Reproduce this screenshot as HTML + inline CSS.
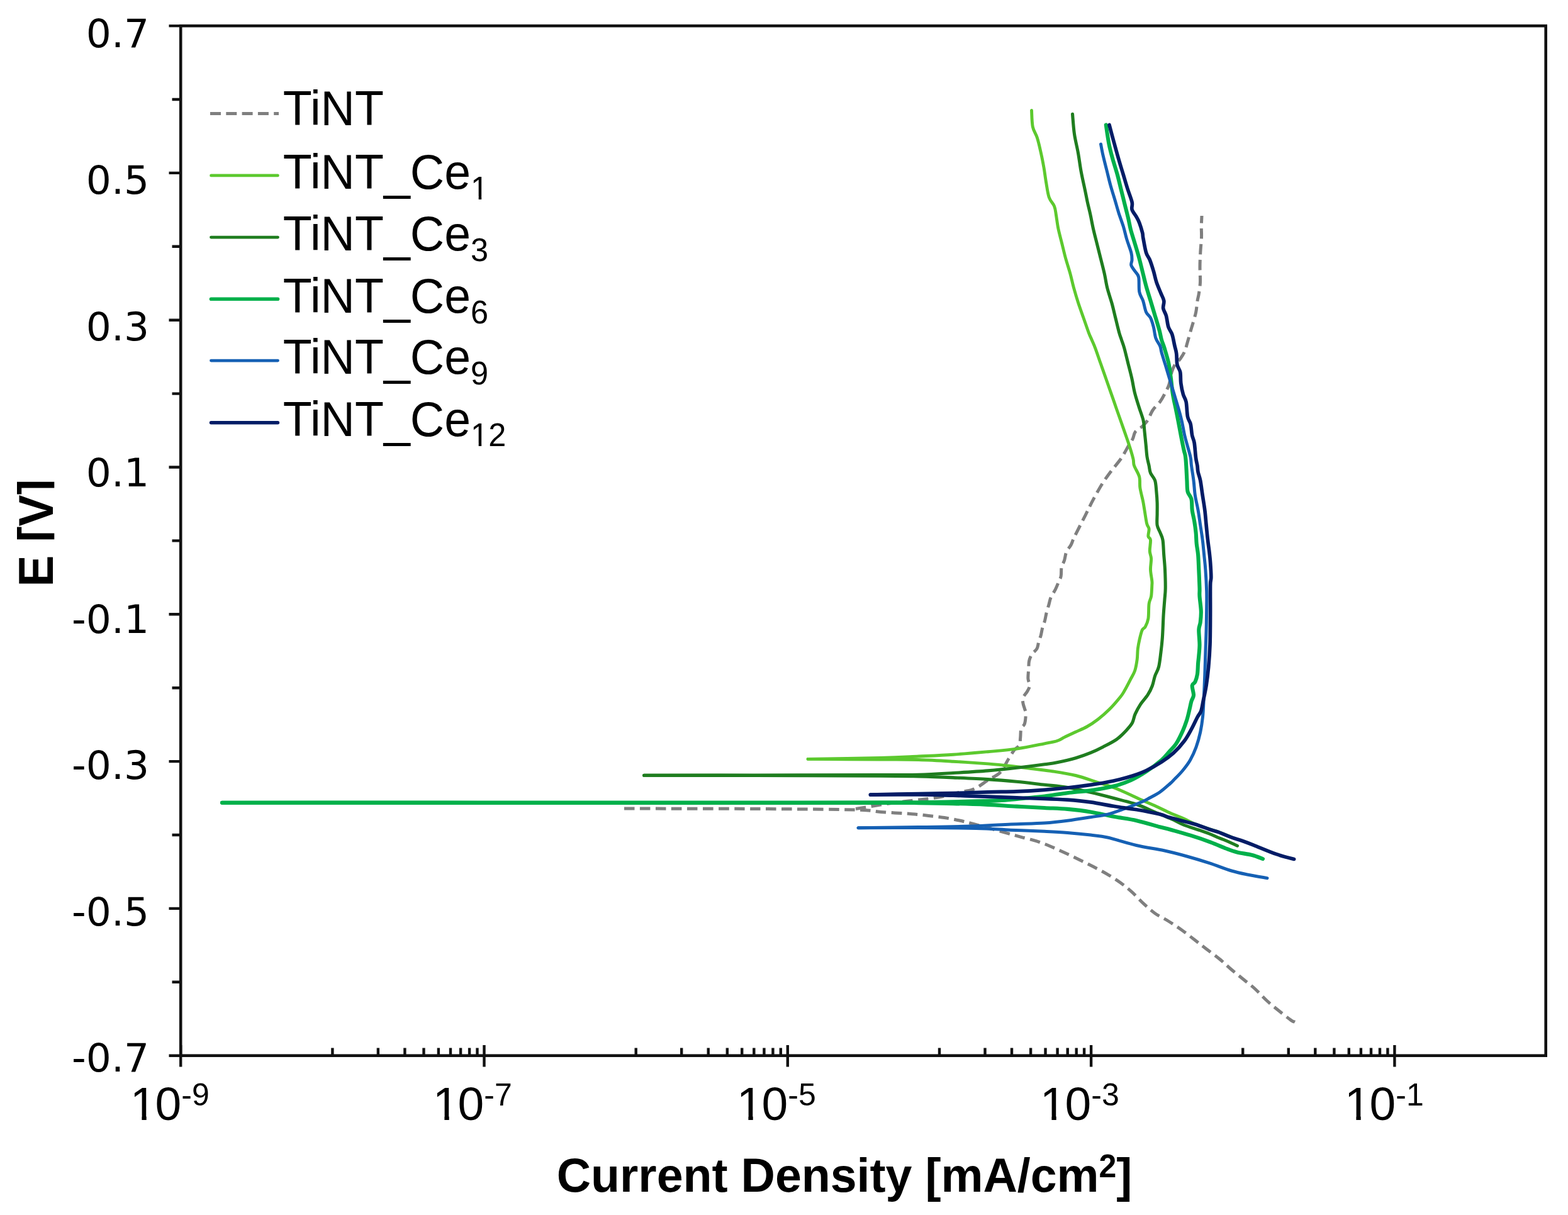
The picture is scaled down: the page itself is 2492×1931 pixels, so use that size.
<!DOCTYPE html>
<html><head><meta charset="utf-8"><title>Potentiodynamic polarization curves</title>
<style>html,body{margin:0;padding:0;background:#fff;}svg{display:block;} .lab{font-family:"Liberation Sans",Arial,sans-serif;fill:#000;}.ylab{font-family:"DejaVu Sans","Liberation Sans",sans-serif;fill:#000;}.bold{font-family:"Liberation Sans",Arial,sans-serif;font-weight:bold;fill:#000;}</style></head><body>
<svg xmlns="http://www.w3.org/2000/svg" width="2492" height="1931" viewBox="0 0 2492 1931">
<rect x="0" y="0" width="2492" height="1931" fill="#fff"/>
<defs><clipPath id="ytclip"><rect x="0" y="600" width="86.3" height="500"/></clipPath></defs>
<g fill="none" stroke-linecap="round" stroke-linejoin="round">
<g stroke="#7f7f7f" stroke-width="5" stroke-dasharray="16.5 8.5" stroke-linecap="butt">
<path d="M992 1285C1026.7 1285.1 1138.7 1285.2 1200 1285.5C1261.3 1285.8 1326.7 1286.2 1360 1287C1393.3 1287.8 1385 1289.4 1400 1290.5C1415 1291.6 1437.3 1292.7 1450 1293.7C1462.7 1294.7 1467.5 1295.5 1476 1296.5C1484.5 1297.5 1492.8 1298.2 1501 1299.5C1509.2 1300.8 1517.3 1302.3 1525 1304C1532.7 1305.7 1538.7 1307.3 1547 1309.5C1555.3 1311.7 1565.8 1314.5 1575 1317C1584.2 1319.5 1594.3 1322.4 1602.3 1324.6C1610.3 1326.8 1615.5 1328.3 1622.9 1330.3C1630.3 1332.3 1639.1 1334.1 1646.9 1336.6C1654.7 1339.1 1662.2 1342 1669.8 1345.2C1677.4 1348.4 1685.1 1352 1692.7 1355.5C1700.3 1359 1708.1 1362.8 1715.6 1366.4C1723 1370 1730.1 1373.5 1737.4 1377.3C1744.8 1381.1 1752.5 1385 1759.7 1389.3C1767 1393.6 1774.3 1398.2 1780.9 1403C1787.5 1407.8 1793.1 1412.4 1799.2 1417.9C1805.3 1423.4 1811.4 1430.6 1817.5 1436.2C1823.6 1441.8 1829.2 1447.1 1835.8 1451.7C1842.4 1456.3 1850 1459.6 1857 1464C1864 1468.4 1871 1473 1878 1478C1885 1483 1892.5 1489 1899 1494C1905.5 1499 1910.5 1503 1917 1508C1923.5 1513 1931.5 1518.7 1938 1524C1944.5 1529.3 1949.8 1534.7 1956 1540C1962.2 1545.3 1969 1550.7 1975.5 1556C1982 1561.3 1988.8 1566.3 1995 1572C2001.2 1577.7 2006.8 1584.3 2013 1590C2019.2 1595.7 2025.5 1600.7 2032 1606C2038.5 1611.3 2047.7 1618.5 2052 1621.6C2056.3 1624.6 2057 1623.8 2058 1624.3"/>
<path d="M1360 1285.5C1370 1283.9 1400.7 1278.7 1420 1276C1439.3 1273.3 1462.7 1271 1476 1269.3C1489.3 1267.5 1491.2 1267.3 1500 1265.5C1508.8 1263.7 1520.3 1260.5 1528.5 1258.5C1536.7 1256.5 1542.1 1256.6 1549 1253.5C1555.9 1250.4 1563.6 1244 1570 1240C1576.4 1236 1583.2 1233.2 1587.5 1229.5C1591.8 1225.8 1593.4 1221.9 1596 1218C1598.6 1214.1 1600.3 1210.3 1603 1206C1605.7 1201.7 1609.2 1195.6 1612 1192C1614.8 1188.4 1618.4 1187.8 1620 1184.5C1621.6 1181.2 1621.2 1176.8 1621.7 1172.4C1622.2 1168 1621.8 1161.9 1622.9 1158.2C1624 1154.5 1627.3 1154.1 1628.5 1150C1629.7 1145.9 1630.3 1137.6 1630.3 1133.7C1630.3 1129.8 1629.2 1129.3 1628.5 1126.6C1627.8 1123.9 1626.3 1120.7 1625.9 1117.7C1625.5 1114.8 1624.7 1112.2 1625.9 1108.9C1627.1 1105.7 1631.2 1101.5 1633 1098.2C1634.8 1095 1636.3 1092.7 1636.5 1089.4C1636.7 1086.2 1634.2 1083.1 1633.9 1078.7C1633.6 1074.3 1634.5 1067.5 1634.8 1062.8C1635.1 1058.1 1634.7 1054.2 1635.6 1050.4C1636.5 1046.6 1638 1043 1640.1 1039.7C1642.2 1036.5 1646.2 1034.2 1648 1030.9C1649.8 1027.7 1649.7 1023.8 1650.7 1020.2C1651.8 1016.7 1653.3 1013.4 1654.3 1009.6C1655.3 1005.8 1655.9 1001.1 1656.9 997.2C1657.9 993.4 1659.5 990.4 1660.5 986.5C1661.5 982.6 1662.1 978.2 1663.1 974.1C1664.1 970 1665.5 965.8 1666.7 961.7C1667.9 957.6 1668.4 953.4 1670.2 949.3C1672 945.2 1675.2 941 1677.3 936.9C1679.4 932.8 1681.1 928 1682.6 924.5C1684.1 921 1685.5 919.5 1686.2 915.6C1687 911.8 1686.2 905.5 1687.1 901.4C1688 897.3 1690.2 894.9 1691.5 890.8C1692.8 886.7 1693.2 880.7 1695 876.6C1696.8 872.5 1700 869.9 1702.1 866C1704.2 862.1 1703.7 861.2 1707.4 853.5C1711.1 845.8 1719.5 829.7 1724.5 819.8C1729.5 809.9 1732.8 802.6 1737.4 794.1C1742 785.6 1747.4 775.8 1752 768.5C1756.6 761.2 1759.9 756.8 1764.8 750.2C1769.7 743.6 1776.8 735.8 1781.5 729C1786.2 722.2 1789.7 714.9 1792.8 709.7C1795.9 704.5 1798 702 1800 698C1802 694 1802 689.3 1804.5 686C1807 682.7 1811.8 681 1815 678C1818.2 675 1821.2 672.3 1824 668C1826.8 663.7 1828.7 657 1832 652C1835.3 647 1840.8 642.3 1844 638C1847.2 633.7 1848.7 630.5 1851 626C1853.3 621.5 1856.2 616.7 1858 611C1859.8 605.3 1860.5 597.2 1862 592C1863.5 586.8 1864.7 583.7 1867 580C1869.3 576.3 1873.3 573.7 1876 570C1878.7 566.3 1881.1 562.5 1883 558C1884.9 553.5 1885.9 548.4 1887.5 543C1889.1 537.6 1891 530.4 1892.4 525.5C1893.8 520.6 1894.5 518.6 1895.9 513.7C1897.3 508.8 1899.5 501.8 1900.7 495.9C1901.9 490 1902.2 483.1 1903 478.2C1903.8 473.3 1904.7 471.3 1905.4 466.4C1906.2 461.5 1907.2 455.6 1907.5 448.7C1907.8 441.8 1907 432.9 1907 425C1907 417.1 1907.4 409.3 1907.8 401.4C1908.2 393.5 1909.2 384.6 1909.5 377.7C1909.8 370.8 1909.2 365.8 1909.3 360C1909.4 354.2 1909.9 345.8 1910 343"/>
</g>
<g stroke="#5cc92e" stroke-width="4.9">
<path d="M1284 1206.4C1303.3 1206.5 1370.7 1206.8 1400 1207C1429.3 1207.2 1440.8 1207 1460 1207.5C1479.2 1208 1496.6 1209.1 1514.9 1210.2C1533.2 1211.3 1554.6 1212.7 1569.9 1213.9C1585.2 1215.1 1594.3 1216.1 1606.5 1217.5C1618.7 1218.9 1632 1220.7 1643.2 1222.1C1654.4 1223.5 1662.6 1224.3 1673.7 1226C1684.8 1227.7 1698.1 1229.7 1709.6 1232.5C1721 1235.3 1731.6 1239.3 1742.4 1242.8C1753.2 1246.3 1762.4 1248.6 1774.6 1253.5C1786.8 1258.4 1804.9 1267.3 1815.7 1272.1C1826.5 1276.9 1832.2 1279.1 1839.6 1282.5C1847 1285.9 1853.1 1289.2 1860 1292.3C1866.9 1295.4 1874.8 1298.2 1881.2 1301C1887.6 1303.8 1891.7 1306.5 1898.5 1309.2C1905.3 1312 1915.4 1315.3 1921.8 1317.5C1928.2 1319.7 1931 1320.1 1936.9 1322.2C1942.8 1324.3 1953.7 1329 1957 1330.3"/>
<path d="M1284 1206.4C1303.3 1206.1 1370.7 1205.2 1400 1204.5C1429.3 1203.8 1440.8 1202.9 1460 1202C1479.2 1201.1 1496.6 1200.4 1514.9 1199.2C1533.2 1198 1553.1 1196.2 1569.9 1194.7C1586.7 1193.2 1600.7 1192.2 1615.7 1190.1C1630.7 1187.9 1649.3 1183.9 1660 1181.8C1670.7 1179.7 1674.7 1179.2 1680 1177.5C1685.3 1175.8 1686.9 1174 1691.8 1171.6C1696.7 1169.2 1703.7 1166.1 1709.6 1163.3C1715.5 1160.5 1721.4 1158.3 1727.3 1155C1733.2 1151.7 1739.1 1147.7 1745 1143.2C1750.9 1138.7 1756.8 1133.7 1762.7 1127.8C1768.6 1121.9 1776.4 1112.7 1780.5 1107.7C1784.6 1102.7 1784.4 1102.4 1787.1 1097.8C1789.8 1093.2 1793.8 1085.4 1796.5 1080.1C1799.2 1074.8 1801.8 1071.3 1803.6 1066C1805.4 1060.7 1806.4 1054.1 1807.2 1048.2C1808 1042.3 1807.6 1036.4 1808.4 1030.5C1809.2 1024.6 1810.7 1017.6 1811.9 1012.7C1813.1 1007.8 1814.1 1003.6 1815.5 1000.9C1816.9 998.1 1818.6 999.2 1820.2 996.2C1821.8 993.2 1823.9 989.3 1824.9 983.2C1825.9 977.1 1825.3 965.5 1826.1 959.6C1826.9 953.7 1828.8 952.6 1829.6 947.7C1830.4 942.8 1830.6 934.1 1830.8 930C1831 925.9 1831.2 927.3 1830.8 923.2C1830.4 919.1 1828.7 911.4 1828.5 905.5C1828.3 899.6 1829.8 892.7 1829.6 887.8C1829.4 882.9 1827.5 880.8 1827.3 875.9C1827.1 871 1828.9 862.1 1828.5 858.2C1828.1 854.3 1825.3 855.2 1824.9 852.3C1824.5 849.3 1826.5 843.9 1826.1 840.5C1825.7 837.1 1823.8 837.1 1822.6 832.2C1821.4 827.3 1820 816.8 1819 810.9C1818 805 1817.8 802.6 1816.6 796.7C1815.4 790.8 1812.9 782 1811.9 775.5C1810.9 769 1812.3 763.6 1810.7 757.7C1809.1 751.8 1804.1 744.6 1802.5 740C1800.9 735.4 1802.1 734.5 1801.1 730C1800.1 725.5 1798.2 719 1796.4 713.2C1794.6 707.5 1792.9 702.4 1790.5 695.5C1788.1 688.6 1785 679.7 1782.2 671.8C1779.4 663.9 1776.7 656.1 1773.9 648.2C1771.2 640.3 1768.5 632.5 1765.7 624.6C1763 616.7 1760.2 608.8 1757.4 600.9C1754.6 593 1751.9 585.2 1749.1 577.3C1746.3 569.4 1743.1 559.8 1740.8 553.6C1738.5 547.4 1736.8 544.1 1735.1 540C1733.4 535.9 1732.6 534.9 1730.4 529.1C1728.2 523.4 1724.9 513.4 1722.1 505.5C1719.3 497.6 1716.4 489.7 1713.8 481.8C1711.2 473.9 1708.9 466.1 1706.7 458.2C1704.5 450.3 1703 442.5 1700.8 434.6C1698.6 426.7 1695.9 418.8 1693.7 410.9C1691.5 403 1689.8 395.2 1687.8 387.3C1685.8 379.4 1683.5 371.2 1681.9 363.6C1680.4 356.1 1679.5 348 1678.5 342C1677.5 336 1677.5 332.5 1675.6 327.8C1673.7 323.1 1669.5 320 1667.3 313.7C1665.1 307.4 1664 297.9 1662.6 290C1661.2 282.1 1660.4 274.3 1659 266.4C1657.6 258.5 1656.1 250.6 1654.3 242.7C1652.5 234.8 1650.6 226 1648.4 219.1C1646.2 212.2 1642.8 208.7 1641.3 201.4C1639.8 194.1 1639.8 179.7 1639.5 175.4"/>
</g>
<g stroke="#1f7d1f" stroke-width="5.1">
<path d="M1023.6 1232.2C1053 1232.2 1137.3 1232.3 1200 1232.5C1262.7 1232.7 1356.7 1233 1400 1233.3C1443.3 1233.5 1440.8 1233.6 1460 1234C1479.2 1234.4 1496.6 1235.1 1514.9 1235.9C1533.2 1236.7 1553.1 1237.5 1569.9 1238.6C1586.7 1239.7 1600.7 1240.9 1615.7 1242.3C1630.7 1243.7 1646.5 1245.7 1660 1247.2C1673.5 1248.7 1684.4 1249.5 1696.6 1251.5C1708.8 1253.5 1721.1 1256.5 1733.3 1259.3C1745.5 1262.1 1757.7 1265.3 1769.9 1268.5C1782.1 1271.7 1795.8 1274.9 1806.5 1278.5C1817.2 1282.1 1826.8 1287 1834 1290C1841.2 1293 1844.8 1294.3 1850 1296.5C1855.2 1298.7 1859.8 1300.6 1865 1303C1870.2 1305.4 1874.5 1308.3 1881.2 1311C1887.9 1313.7 1898.1 1316.7 1904.9 1319C1911.7 1321.3 1916.5 1322.9 1921.8 1325C1927.1 1327.1 1932.5 1329.7 1936.9 1331.5C1941.3 1333.3 1943.5 1333.9 1948.4 1336C1953.3 1338.1 1963.5 1342.8 1966.5 1344.2"/>
<path d="M1023.6 1232.2C1053 1232.2 1137.3 1232.1 1200 1232C1262.7 1231.9 1356.7 1231.6 1400 1231.5C1443.3 1231.4 1440.8 1231.8 1460 1231.3C1479.2 1230.8 1496.6 1229.6 1514.9 1228.5C1533.2 1227.4 1553.1 1226.3 1569.9 1224.9C1586.7 1223.5 1600.7 1222 1615.7 1220.3C1630.7 1218.6 1649.3 1216.2 1660 1214.8C1670.7 1213.4 1671.7 1213.5 1680 1211.8C1688.3 1210.1 1700.7 1207.3 1709.6 1204.7C1718.5 1202.1 1725.9 1199.4 1733.2 1196.4C1740.5 1193.4 1746.4 1190.5 1753.3 1186.9C1760.2 1183.4 1768.5 1179.4 1774.6 1175.1C1780.7 1170.8 1785.8 1165.2 1789.9 1160.9C1794 1156.6 1797 1153.4 1799.4 1149.1C1801.8 1144.8 1801.9 1139.8 1804.1 1134.9C1806.3 1130 1809.1 1124.7 1812.4 1119.6C1815.8 1114.5 1821.1 1109.1 1824.2 1104.2C1827.3 1099.3 1829.4 1095 1831.3 1090C1833.2 1085 1833.9 1079.2 1835.6 1074.2C1837.3 1069.2 1839.9 1066.3 1841.5 1060C1843.1 1053.7 1844 1044.3 1845 1036.4C1846 1028.5 1846.7 1022.6 1847.4 1012.7C1848.1 1002.9 1848.5 987.1 1849.1 977.3C1849.7 967.4 1850.4 960.6 1850.9 953.6C1851.4 946.6 1852.1 943 1852.2 935C1852.3 927 1851.9 914.4 1851.5 905.5C1851.1 896.6 1850.3 889.7 1849.7 881.8C1849.1 873.9 1849 864.1 1848 858.2C1847 852.3 1845.3 850.3 1843.8 846.4C1842.3 842.5 1839.9 839.5 1839.1 834.6C1838.3 829.7 1839.1 822.7 1839.1 816.8C1839.1 810.9 1839.3 805 1839.1 799.1C1838.9 793.2 1838.5 787.3 1837.9 781.4C1837.3 775.5 1837.2 768.5 1835.6 763.6C1834 758.7 1830.1 755.7 1828.5 751.8C1826.9 747.9 1827 744.3 1826.1 740C1825.2 735.7 1823.8 731.5 1823 726C1822.2 720.5 1821.9 714.3 1821.2 707.3C1820.5 700.2 1819.5 690.2 1818.8 683.7C1818.1 677.2 1818.5 674.2 1817.1 668.3C1815.7 662.4 1812.9 655.5 1810.6 648.2C1808.3 640.9 1805.5 632.5 1803.5 624.6C1801.5 616.7 1800.5 608.8 1798.7 600.9C1796.9 593 1794.8 585.2 1792.8 577.3C1790.8 569.4 1788.6 559.8 1786.9 553.6C1785.2 547.4 1783.8 544.1 1782.4 540C1781.1 535.9 1780.4 534.9 1778.8 529.1C1777.2 523.4 1774.9 513.4 1772.9 505.5C1770.9 497.6 1769.2 489.7 1767 481.8C1764.8 473.9 1761.9 466.1 1759.9 458.2C1757.9 450.3 1757 442.5 1755.2 434.6C1753.4 426.7 1751.3 418.8 1749.3 410.9C1747.3 403 1745.4 395.2 1743.4 387.3C1741.4 379.4 1739.3 371.5 1737.5 363.6C1735.7 355.7 1734.3 347.3 1732.7 340C1731.1 332.7 1729.4 326.6 1728 320C1726.6 313.4 1725.8 308.6 1724.1 300.7C1722.4 292.8 1719.9 282 1718.1 272.3C1716.3 262.6 1715.2 252.5 1713.4 242.7C1711.6 232.8 1709 223.4 1707.5 213.2C1706 203 1705 186.6 1704.5 181.3"/>
</g>
<g stroke="#00b04a" stroke-width="6.1">
<path d="M353 1275.7C460.8 1275.8 825.5 1276 1000 1276C1174.5 1276 1323.3 1276 1400 1276C1476.7 1276 1440.8 1276 1460 1276.2C1479.2 1276.4 1496.6 1276.6 1514.9 1277.1C1533.2 1277.5 1553.1 1278.2 1569.9 1278.9C1586.7 1279.7 1600.7 1280.8 1615.7 1281.6C1630.7 1282.4 1646.5 1283.3 1660 1284C1673.5 1284.7 1684.4 1284.8 1696.6 1285.9C1708.8 1287 1721.1 1288.4 1733.3 1290.4C1745.5 1292.4 1757.7 1295.5 1769.9 1297.8C1782.1 1300.1 1794.3 1301.5 1806.5 1304.2C1818.7 1306.9 1834.3 1311.8 1843.2 1314.2C1852.1 1316.6 1851.9 1316.2 1860 1318.5C1868.1 1320.8 1881.3 1324.4 1892 1327.7C1902.7 1331 1914.7 1335.1 1924.1 1338.6C1933.5 1342.1 1941.4 1345.8 1948.4 1348.5C1955.4 1351.2 1959.3 1352.8 1966.2 1354.5C1973.1 1356.2 1983.2 1357.2 1990 1359C1996.8 1360.8 2004.2 1364 2007 1365"/>
<path d="M353 1275.7C460.8 1275.7 825.5 1275.5 1000 1275.5C1174.5 1275.5 1323.3 1275.5 1400 1275.4C1476.7 1275.4 1434.7 1275.5 1460 1275.2C1485.3 1274.9 1528.7 1274 1551.6 1273.4C1574.5 1272.8 1584.3 1272.4 1597.4 1271.6C1610.5 1270.8 1619.6 1269.5 1630 1268.5C1640.4 1267.5 1648.9 1266.9 1660 1265.5C1671.1 1264.1 1684.4 1261.8 1696.6 1260.2C1708.8 1258.7 1721.1 1258 1733.3 1256.2C1745.5 1254.4 1759.2 1252.2 1769.9 1249.5C1780.6 1246.8 1788.7 1243.9 1797.4 1240C1806.1 1236.1 1813.9 1231.3 1822 1226C1830.1 1220.7 1840 1213.2 1846 1208C1852 1202.8 1854.2 1199.3 1858 1195C1861.8 1190.7 1865.4 1187.9 1869.1 1182.2C1872.8 1176.5 1877.2 1167.1 1880 1160.9C1882.8 1154.7 1884.3 1150.2 1886 1145C1887.7 1139.8 1888.7 1135.1 1889.9 1130C1891.2 1124.9 1892.3 1118.6 1893.5 1114.4C1894.7 1110.2 1896.8 1109 1897 1104.9C1897.2 1100.8 1894.3 1093.1 1894.7 1089.6C1895.1 1086.1 1898 1086.7 1899.4 1083.7C1900.8 1080.7 1902.1 1076.7 1902.9 1071.8C1903.7 1066.9 1903.7 1059 1904.1 1054.1C1904.5 1049.2 1904.9 1047.2 1905.3 1042.3C1905.7 1037.4 1906.5 1031.5 1906.5 1024.6C1906.5 1017.7 1905.1 1006.8 1905.3 1000.9C1905.5 995 1907.1 994 1907.7 989.1C1908.3 984.2 1909 978.3 1908.8 971.4C1908.6 964.5 1906.9 953.8 1906.5 947.7C1906.1 941.6 1906.7 942 1906.5 935C1906.3 928 1905.7 914.4 1905.3 905.5C1904.9 896.6 1904.7 888.7 1904.1 881.8C1903.5 874.9 1902.3 870 1901.7 864.1C1901.1 858.2 1901.2 852.3 1900.6 846.4C1900 840.5 1899.2 834.6 1898.2 828.7C1897.2 822.8 1895.5 816.8 1894.7 810.9C1893.9 805 1894.7 798.1 1893.5 793.2C1892.3 788.3 1888.8 786.3 1887.6 781.4C1886.4 776.5 1886.8 770.5 1886.4 763.6C1886 756.7 1885.6 746.4 1885.2 740C1884.8 733.6 1884.5 729.1 1883.9 725C1883.3 720.9 1882.8 721 1881.6 715.5C1880.4 710 1878.3 699.5 1876.8 691.8C1875.3 684 1873.9 676.1 1872.5 669C1871.1 661.9 1870 656.2 1868.5 649C1867 641.8 1865 633.5 1863.8 625.7C1862.5 617.9 1862.1 610.3 1861 602C1859.9 593.7 1858.8 584.2 1857 576C1855.2 567.8 1852.3 559 1850.5 553C1848.7 547 1847.3 544.6 1846 540C1844.7 535.4 1844.4 531.9 1842.7 525.5C1841 519.1 1838.1 509.7 1835.7 501.8C1833.3 493.9 1831 486.1 1828.6 478.2C1826.2 470.3 1823.7 462.5 1821.5 454.6C1819.3 446.7 1817.6 438.8 1815.6 430.9C1813.6 423 1811.8 415.2 1809.6 407.3C1807.4 399.4 1804.7 390.7 1802.6 383.6C1800.5 376.6 1798.6 371.1 1797 365C1795.4 358.9 1794.8 354.2 1793.2 347.3C1791.6 340.4 1789.3 331.6 1787.3 323.7C1785.3 315.8 1783.4 307.9 1781.4 300C1779.4 292.1 1777.7 284.3 1775.5 276.4C1773.3 268.5 1770.6 260.6 1768.4 252.7C1766.2 244.8 1764.3 238.1 1762.5 229.1C1760.7 220.1 1758.5 203.5 1757.7 198.4"/>
</g>
<g stroke="#1560b4" stroke-width="5.0">
<path d="M1364 1315.8C1380 1315.8 1428.7 1315.4 1460 1315.5C1491.3 1315.6 1527.2 1315.8 1551.6 1316.4C1576 1317 1588.4 1318.4 1606.5 1319.2C1624.6 1320 1645 1320.6 1660 1321.3C1675 1322 1684.4 1322.4 1696.6 1323.4C1708.8 1324.4 1722.7 1325.8 1733.3 1327.1C1743.9 1328.4 1748.2 1328.3 1760.3 1331C1772.4 1333.7 1791 1340 1806 1343.5C1821 1347 1836.6 1348.9 1850 1351.8C1863.4 1354.7 1874.4 1357.7 1886.4 1361C1898.4 1364.3 1910 1367.8 1921.8 1371.6C1933.6 1375.4 1946.9 1380.9 1957.3 1384C1967.7 1387.1 1974.5 1388.3 1983.9 1390.2C1993.4 1392.1 2009 1394.7 2014 1395.6"/>
<path d="M1364 1315.8C1380 1315.6 1428.7 1315.1 1460 1314.6C1491.3 1314.1 1527.2 1313.6 1551.6 1312.8C1576 1312 1588.4 1310.8 1606.5 1310C1624.6 1309.2 1645 1309 1660 1308C1675 1307 1684.4 1305.8 1696.6 1304.2C1708.8 1302.7 1722.6 1300.4 1733.3 1298.7C1744 1297 1751.5 1296.4 1760.7 1294.1C1769.9 1291.8 1779 1288.2 1788.2 1284.9C1797.4 1281.6 1809.2 1276.8 1815.7 1274C1822.2 1271.2 1822.7 1270.5 1827.3 1268C1831.9 1265.5 1837.8 1262.8 1843.2 1259C1848.7 1255.2 1856.3 1248.2 1860 1245C1863.7 1241.8 1861.9 1243.3 1865.1 1240C1868.3 1236.7 1874.9 1230.3 1879.3 1225C1883.7 1219.7 1888 1214.3 1891.6 1208C1895.2 1201.7 1898.3 1194.7 1901 1187.3C1903.7 1179.9 1906 1171.5 1907.7 1163.6C1909.4 1155.7 1910.5 1148.1 1911.4 1140C1912.3 1131.9 1912.4 1126.4 1913 1115C1913.6 1103.6 1914.3 1084.9 1914.8 1071.8C1915.3 1058.7 1915.5 1048.2 1915.9 1036.4C1916.3 1024.6 1916.8 1012.7 1917.1 1000.9C1917.4 989.1 1917.6 975.6 1917.7 965.5C1917.8 955.4 1918 950 1917.7 940C1917.4 930 1916.6 915.2 1915.9 905.5C1915.2 895.8 1914.4 889.7 1913.6 881.8C1912.8 873.9 1912.2 866.1 1911.2 858.2C1910.2 850.3 1908.9 842.5 1907.7 834.6C1906.5 826.7 1905.5 818.8 1904.1 810.9C1902.7 803 1900.6 795.2 1899.4 787.3C1898.2 779.4 1898 771.5 1897 763.6C1896 755.7 1894.3 746 1893.5 740C1892.7 734 1893.2 732.4 1892.2 727.3C1891.2 722.2 1889.1 715.5 1887.5 709.6C1885.9 703.7 1884.3 698.7 1882.7 691.8C1881.1 684.9 1879.6 675.1 1878 668.2C1876.4 661.3 1875.3 657.4 1873.3 650.5C1871.3 643.6 1868.6 634.7 1866.2 626.8C1863.8 618.9 1861.5 611.1 1859.1 603.2C1856.7 595.3 1854.2 586.8 1852 579.6C1849.8 572.4 1847.4 564.9 1846 560C1844.6 555.1 1845.2 553.8 1843.7 550C1842.2 546.2 1838.5 542.4 1836.8 537.3C1835.1 532.2 1834.7 524.9 1833.3 519.6C1831.9 514.3 1830.6 509.3 1828.6 505.4C1826.6 501.4 1823.5 500.4 1821.5 495.9C1819.5 491.4 1818.5 483.5 1816.7 478.2C1814.9 472.9 1812 470.3 1810.8 464C1809.6 457.7 1810.8 445.9 1809.6 440.4C1808.4 434.9 1805.7 434 1803.7 430.9C1801.7 427.8 1798.6 424.4 1797.8 421.5C1797 418.6 1799 416.6 1799 413.2C1799 409.8 1799.2 406.9 1797.8 401.4C1796.4 395.9 1792.8 387.1 1790.7 380.1C1788.6 373.1 1787.4 366.5 1785.2 359.5C1783 352.5 1780 344.8 1777.8 337.9C1775.6 330.9 1774.1 325.1 1771.9 317.8C1769.7 310.5 1767 302 1764.8 294.1C1762.6 286.2 1760.9 278.4 1758.9 270.5C1756.9 262.6 1754.6 253.7 1753 246.8C1751.4 239.9 1750.1 232.1 1749.5 229.1"/>
</g>
<g stroke="#041c66" stroke-width="5.7">
<path d="M1383.5 1263.1C1396.2 1263.1 1438.1 1262.7 1460 1262.9C1481.9 1263.1 1496.6 1263.7 1514.9 1264.2C1533.2 1264.7 1553.1 1265.5 1569.9 1266.1C1586.7 1266.7 1600.7 1267.4 1615.7 1267.9C1630.7 1268.4 1646.5 1268.8 1660 1269.3C1673.5 1269.8 1684.4 1270.3 1696.6 1271.2C1708.8 1272.1 1721.1 1273.2 1733.3 1274.9C1745.5 1276.6 1757.7 1279.3 1769.9 1281.3C1782.1 1283.3 1794.3 1284.7 1806.5 1286.8C1818.7 1288.9 1834.3 1292 1843.2 1294.1C1852.1 1296.2 1850.8 1297 1860 1299.6C1869.2 1302.2 1888.2 1306.6 1898.5 1309.7C1908.8 1312.8 1915.4 1315.8 1921.8 1318C1928.2 1320.2 1931 1320.4 1936.9 1322.6C1942.8 1324.8 1950.9 1328.6 1957.3 1330.9C1963.7 1333.2 1969.5 1334.6 1975.4 1336.7C1981.3 1338.8 1984 1339.8 1992.8 1343.3C2001.6 1346.8 2017.6 1353.7 2028.2 1357.4C2038.8 1361.1 2051.9 1364.1 2056.6 1365.4"/>
<path d="M1383.5 1263.1C1396.2 1262.8 1438.1 1261.9 1460 1261.5C1481.9 1261.1 1496.6 1261 1514.9 1260.6C1533.2 1260.1 1553.1 1259.3 1569.9 1258.8C1586.7 1258.3 1600.7 1258.4 1615.7 1257.8C1630.7 1257.2 1646.5 1256.3 1660 1255.3C1673.5 1254.3 1684.4 1253.3 1696.6 1252C1708.8 1250.7 1721.1 1249.2 1733.3 1247.4C1745.5 1245.6 1758.8 1243.4 1769.9 1241C1781 1238.6 1791.3 1235.8 1800 1233C1808.7 1230.2 1814.3 1228.2 1822 1224.5C1829.7 1220.8 1839 1215.5 1846.2 1210.9C1853.4 1206.3 1859.1 1202.2 1865.1 1196.7C1871.1 1191.2 1877.4 1184.1 1882.1 1177.8C1886.8 1171.5 1890 1165.2 1893.5 1158.9C1897 1152.6 1900.4 1144.8 1902.9 1140C1905.5 1135.2 1907.2 1134.5 1908.8 1130C1910.4 1125.5 1911 1119.9 1912.4 1113.2C1913.8 1106.5 1915.7 1098.5 1917.1 1089.6C1918.5 1080.7 1919.7 1070.8 1920.7 1060C1921.7 1049.2 1922.5 1038.4 1923 1024.6C1923.5 1010.8 1923.5 993.1 1923.6 977.3C1923.7 961.5 1923.4 940 1923.6 930C1923.8 920 1924.8 923.3 1924.8 917.3C1924.8 911.2 1924.1 900.6 1923.6 893.7C1923.1 886.8 1922.5 881.8 1921.8 875.9C1921.1 870 1920.3 865.1 1919.5 858.2C1918.7 851.3 1917.9 842.5 1917.1 834.6C1916.3 826.7 1915.8 818.8 1914.8 810.9C1913.8 803 1912.4 795.2 1911.2 787.3C1910 779.4 1908.9 769.8 1907.7 763.6C1906.5 757.4 1904.8 753.9 1904 750C1903.2 746.1 1903.5 743.8 1902.9 740C1902.3 736.2 1901.3 733.3 1900.5 727.3C1899.7 721.2 1899.1 709.6 1898.1 703.7C1897.1 697.8 1895.6 696.7 1894.6 691.8C1893.6 686.9 1893.4 679 1892.2 674.1C1891 669.2 1888.7 668.2 1887.5 662.3C1886.3 656.4 1886.3 644.6 1885.1 638.7C1883.9 632.8 1881.8 631.7 1880.4 626.8C1879 621.9 1877.6 615 1876.8 609.1C1876 603.2 1876.7 596.3 1875.7 591.4C1874.7 586.5 1871.9 584.5 1870.9 579.6C1869.9 574.7 1870.4 566.7 1869.7 561.8C1869 556.9 1868.2 555.1 1867 550C1865.8 544.9 1864.5 536.5 1862.8 531.4C1861.1 526.3 1858.5 524.5 1856.9 519.6C1855.3 514.7 1854.8 506.7 1853.4 501.8C1852 496.9 1849.3 493.9 1848.7 490C1848.1 486.1 1850.4 482.1 1849.8 478.2C1849.2 474.3 1847.1 471.3 1845.1 466.4C1843.1 461.5 1840 454.6 1838 448.7C1836 442.8 1835.1 436.8 1833.3 430.9C1831.5 425 1829.4 418.1 1827.4 413.2C1825.4 408.3 1823.3 407.3 1821.5 401.4C1819.7 395.5 1817.7 382.9 1816.7 377.7C1815.7 372.5 1816.7 373.9 1815.7 370C1814.7 366.1 1812.5 358.6 1810.9 354.4C1809.3 350.2 1808.2 348.4 1806.2 344.9C1804.2 341.3 1800.3 337 1799.1 333.1C1797.9 329.2 1800.3 326.8 1799.1 321.3C1797.9 315.8 1794.4 307.5 1792 300C1789.6 292.5 1787.3 284.3 1784.9 276.4C1782.5 268.5 1780.3 261.6 1777.8 252.7C1775.2 243.8 1772.1 232.2 1769.6 223.2C1767.1 214.1 1764.1 202.5 1763 198.4"/>
</g>
</g>
<rect x="287.2" y="41.1" width="2169.5" height="1636.6" fill="none" stroke="#111" stroke-width="4.6"/>
<path d="M268.5 41.1 H287.2 M273.5 158 H287.2 M268.5 274.9 H287.2 M273.5 391.8 H287.2 M268.5 508.7 H287.2 M273.5 625.6 H287.2 M268.5 742.5 H287.2 M273.5 859.4 H287.2 M268.5 976.3 H287.2 M273.5 1093.2 H287.2 M268.5 1210.1 H287.2 M273.5 1327 H287.2 M268.5 1443.9 H287.2 M273.5 1560.8 H287.2 M268.5 1677.7 H287.2 M287.2 1661 V1695.5 M769.5 1661 V1695.5 M1251.8 1661 V1695.5 M1734.1 1661 V1695.5 M2216.4 1661 V1695.5 M528.4 1665.5 V1677.7 M600.9 1665.5 V1677.7 M643.4 1665.5 V1677.7 M673.5 1665.5 V1677.7 M696.9 1665.5 V1677.7 M716 1665.5 V1677.7 M732.1 1665.5 V1677.7 M746.1 1665.5 V1677.7 M758.5 1665.5 V1677.7 M1010.7 1665.5 V1677.7 M1083.2 1665.5 V1677.7 M1125.7 1665.5 V1677.7 M1155.8 1665.5 V1677.7 M1179.2 1665.5 V1677.7 M1198.3 1665.5 V1677.7 M1214.4 1665.5 V1677.7 M1228.4 1665.5 V1677.7 M1240.8 1665.5 V1677.7 M1493 1665.5 V1677.7 M1565.5 1665.5 V1677.7 M1608 1665.5 V1677.7 M1638.1 1665.5 V1677.7 M1661.5 1665.5 V1677.7 M1680.6 1665.5 V1677.7 M1696.7 1665.5 V1677.7 M1710.7 1665.5 V1677.7 M1723.1 1665.5 V1677.7 M1975.2 1665.5 V1677.7 M2047.8 1665.5 V1677.7 M2090.3 1665.5 V1677.7 M2120.4 1665.5 V1677.7 M2143.8 1665.5 V1677.7 M2162.9 1665.5 V1677.7 M2179 1665.5 V1677.7 M2193 1665.5 V1677.7 M2205.4 1665.5 V1677.7" stroke="#111" stroke-width="4.4" fill="none"/>
<text class="ylab" x="237" y="75.4" font-size="63" text-anchor="end">0.7</text>
<text class="ylab" x="237" y="307.9" font-size="63" text-anchor="end">0.5</text>
<text class="ylab" x="237" y="540.5" font-size="63" text-anchor="end">0.3</text>
<text class="ylab" x="237" y="773" font-size="63" text-anchor="end">0.1</text>
<text class="ylab" x="237" y="1005.5" font-size="63" text-anchor="end">-0.1</text>
<text class="ylab" x="237" y="1238.1" font-size="63" text-anchor="end">-0.3</text>
<text class="ylab" x="237" y="1470.6" font-size="63" text-anchor="end">-0.5</text>
<text class="ylab" x="237" y="1703.1" font-size="63" text-anchor="end">-0.7</text>
<text class="lab" x="204.8" y="1780.3" font-size="75"><tspan dx="2">1</tspan><tspan dx="-2">0</tspan><tspan font-size="50" dy="-23.3">-9</tspan></text>
<text class="lab" x="685.8" y="1780.3" font-size="75"><tspan dx="2">1</tspan><tspan dx="-2">0</tspan><tspan font-size="50" dy="-23.3">-7</tspan></text>
<text class="lab" x="1168.8" y="1780.3" font-size="75"><tspan dx="2">1</tspan><tspan dx="-2">0</tspan><tspan font-size="50" dy="-23.3">-5</tspan></text>
<text class="lab" x="1650.8" y="1780.3" font-size="75"><tspan dx="2">1</tspan><tspan dx="-2">0</tspan><tspan font-size="50" dy="-23.3">-3</tspan></text>
<text class="lab" x="2134.8" y="1780.3" font-size="75"><tspan dx="2">1</tspan><tspan dx="-2">0</tspan><tspan font-size="50" dy="-23.3">-1</tspan></text>
<path d="M209.8 1773.4 H225.4 V1781.5 H209.8 Z M232.7 1773.4 H246.3 V1781.5 H232.7 Z M690.8 1773.4 H706.4 V1781.5 H690.8 Z M713.7 1773.4 H727.3 V1781.5 H713.7 Z M1173.8 1773.4 H1189.4 V1781.5 H1173.8 Z M1196.7 1773.4 H1210.3 V1781.5 H1196.7 Z M1655.8 1773.4 H1671.4 V1781.5 H1655.8 Z M1678.7 1773.4 H1692.3 V1781.5 H1678.7 Z M2139.8 1773.4 H2155.4 V1781.5 H2139.8 Z M2162.7 1773.4 H2176.3 V1781.5 H2162.7 Z" fill="#fff"/>
<text class="bold" transform="translate(884.7 1894.3) scale(1 1.02)" x="0" y="0" font-size="75.3">Current Density [mA/cm<tspan font-size="50" dy="-23">2</tspan><tspan dy="23">]</tspan></text>
<g clip-path="url(#ytclip)"><text class="bold" font-size="75" transform="translate(84.2 932.4) rotate(-90) scale(1 1.03)" x="0" y="0">E [V]</text></g>
<path d="M334 180.4 H443" stroke="#7f7f7f" stroke-width="5" stroke-dasharray="17 8.3" fill="none"/>
<text class="lab" transform="translate(449.7 199.4) scale(1 1.025)" x="0" y="0" font-size="75.3">TiNT</text>
<path d="M335.5 278.9 H441.5" stroke="#5cc92e" stroke-width="4.6" stroke-linecap="round" fill="none"/>
<text class="lab" transform="translate(449.7 300.4) scale(1 1.025)" x="0" y="0" font-size="75.3">TiNT_Ce<tspan font-size="50.5" dy="16">1</tspan></text>
<path d="M335.5 377.1 H441.5" stroke="#1f7d1f" stroke-width="4.8" stroke-linecap="round" fill="none"/>
<text class="lab" transform="translate(449.7 398.3) scale(1 1.025)" x="0" y="0" font-size="75.3">TiNT_Ce<tspan font-size="50.5" dy="16">3</tspan></text>
<path d="M335.5 475.2 H441.5" stroke="#00b04a" stroke-width="5.6" stroke-linecap="round" fill="none"/>
<text class="lab" transform="translate(449.7 497.1) scale(1 1.025)" x="0" y="0" font-size="75.3">TiNT_Ce<tspan font-size="50.5" dy="16">6</tspan></text>
<path d="M335.5 573.1 H441.5" stroke="#1560b4" stroke-width="4.8" stroke-linecap="round" fill="none"/>
<text class="lab" transform="translate(449.7 594.4) scale(1 1.025)" x="0" y="0" font-size="75.3">TiNT_Ce<tspan font-size="50.5" dy="16">9</tspan></text>
<path d="M335.5 671.8 H441.5" stroke="#041c66" stroke-width="5.4" stroke-linecap="round" fill="none"/>
<text class="lab" transform="translate(449.7 692.7) scale(1 1.025)" x="0" y="0" font-size="75.3">TiNT_Ce<tspan font-size="50.5" dy="16">12</tspan></text>
<path d="M750.3 312.3 H760.7 V317.6 H750.3 Z M765.2 312.3 H774.5 V317.6 H765.2 Z M750.3 704.5 H760.7 V709.9 H750.3 Z M765.2 704.5 H774.5 V709.9 H765.2 Z" fill="#fff"/>
</svg></body></html>
